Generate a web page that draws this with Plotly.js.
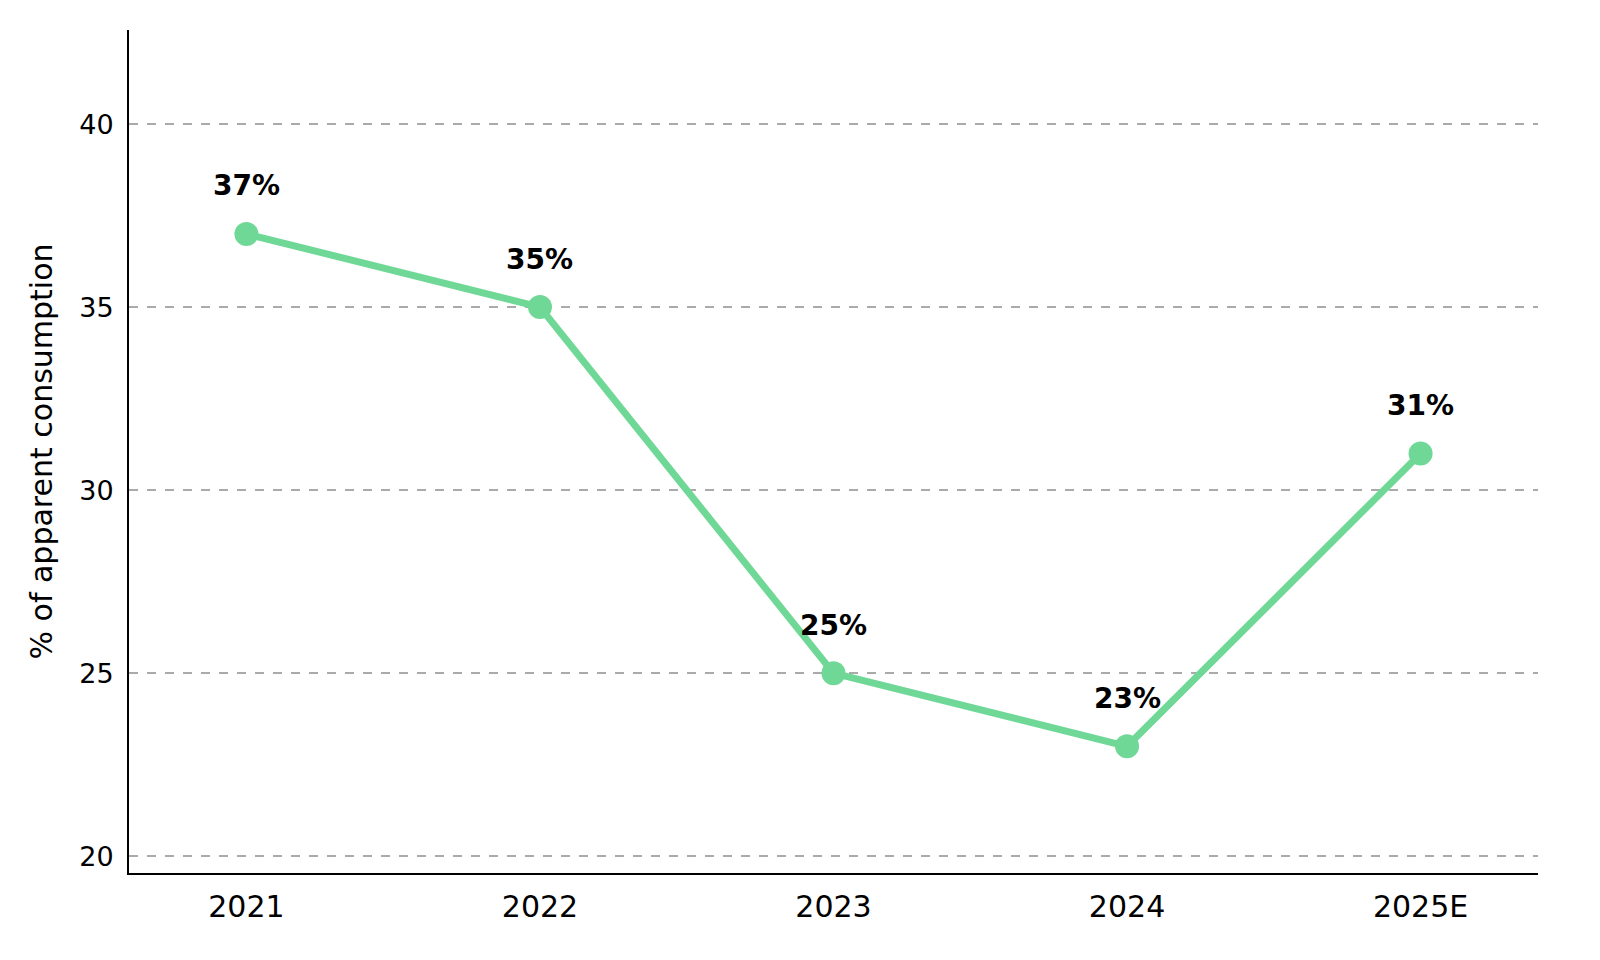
<!DOCTYPE html>
<html>
<head>
<meta charset="utf-8">
<script src="https://cdn.plot.ly/plotly-3.0.1.min.js"></script>
<style>
html, body { margin: 0; padding: 0; background: #fff; }
#chart { width: 1600px; height: 960px; }
</style>
</head>
<body>
<div id="chart"></div>
<script>
// Share of apparent consumption by year
const years = ['2021', '2022', '2023', '2024', '2025E'];
const shares = [37, 35, 25, 23, 31];
const shareLabels = ['37%', '35%', '25%', '23%', '31%'];

const lineColor = '#6fd896';
const font = 'DejaVu Sans, sans-serif';

let graph_data = [{
  x: years,
  y: shares,
  type: 'scatter',
  mode: 'lines+markers',
  line: {color: lineColor, width: 7},
  marker: {color: lineColor, size: 24},
  showlegend: false,
  hoverinfo: 'skip'
}];

// Value labels above each point (x is the category index)
let annotations = years.map((yr, i) => ({
  x: i,
  y: shares[i],
  xref: 'x',
  yref: 'y',
  text: '<b>' + shareLabels[i] + '</b>',
  showarrow: false,
  yshift: 48,
  font: {family: font, size: 28, color: '#000'}
}));

let layout = {
  width: 1600,
  height: 960,
  margin: {l: 129, r: 62, t: 30, b: 87},
  paper_bgcolor: '#fff',
  plot_bgcolor: '#fff',
  font: {family: font, color: '#000'},
  annotations: annotations,
  xaxis: {
    type: 'category',
    range: [-0.4, 4.4],
    showgrid: false,
    zeroline: false,
    showline: true,
    linecolor: '#000',
    linewidth: 2,
    ticks: '',
    tickfont: {family: font, size: 30},
    ticklabelstandoff: 6
  },
  yaxis: {
    range: [19.54, 42.57],
    tickvals: [20, 25, 30, 35, 40],
    showgrid: true,
    gridcolor: '#aaaaaa',
    gridwidth: 1.5,
    griddash: 'dash',
    zeroline: false,
    showline: true,
    linecolor: '#000',
    linewidth: 2,
    ticks: '',
    tickfont: {family: font, size: 27},
    ticklabelstandoff: 8,
    title: {
      text: '% of apparent consumption',
      font: {family: font, size: 30},
      standoff: 18
    }
  }
};

Plotly.newPlot('chart', graph_data, layout, {displayModeBar: false, staticPlot: true});
</script>
</body>
</html>
